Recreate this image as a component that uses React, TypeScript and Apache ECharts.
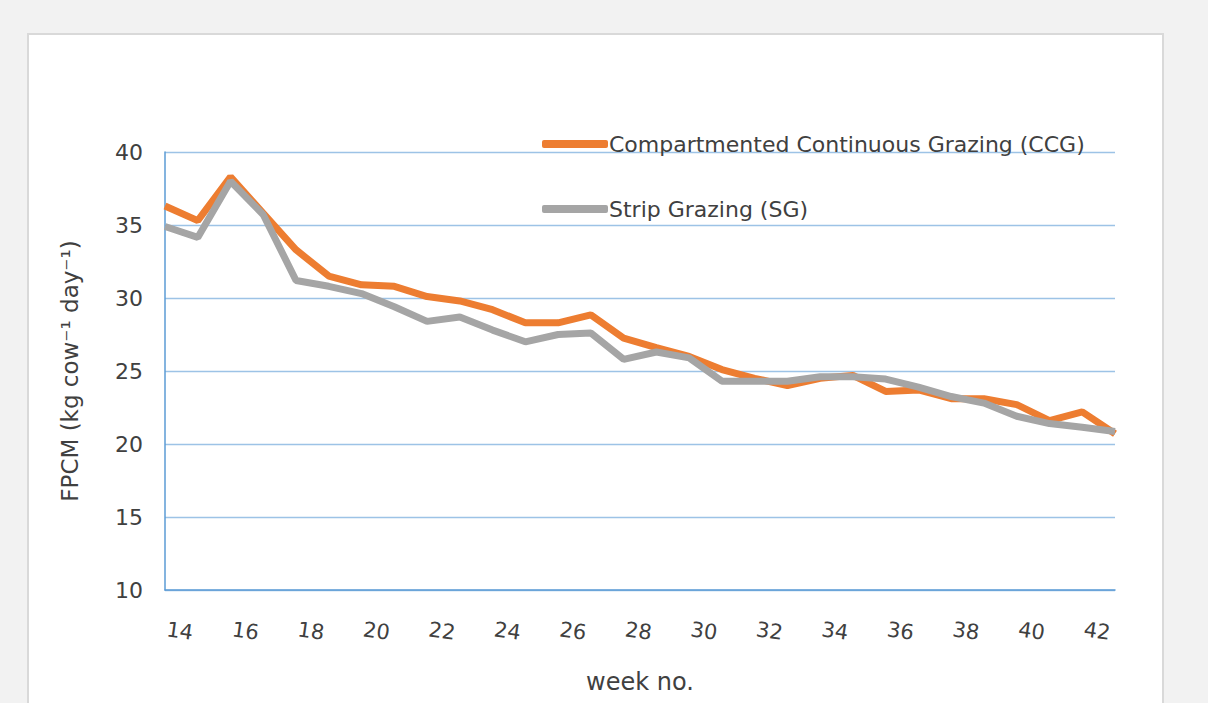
import React, { useEffect, useRef } from "react";
import * as echarts from "echarts";

const weeks = ["14","15","16","17","18","19","20","21","22","23","24","25","26","27","28","29","30","31","32","33","34","35","36","37","38","39","40","41","42","43"];
const ccg = [36.3,35.3,38.3,35.8,33.3,31.5,30.9,30.8,30.1,29.8,29.2,28.3,28.3,28.85,27.25,26.6,26.0,25.1,24.5,24.0,24.5,24.7,23.6,23.7,23.1,23.1,22.7,21.6,22.2,20.7];
const sg = [34.9,34.15,38.0,35.7,31.2,30.8,30.3,29.4,28.4,28.7,27.8,27.0,27.5,27.6,25.8,26.3,25.9,24.3,24.3,24.3,24.6,24.6,24.45,23.9,23.25,22.8,21.9,21.4,21.15,20.85];
const seriesNames = ["Compartmented Continuous Grazing (CCG)", "Strip Grazing (SG)"];
const yMin = 10, yMax = 40, yStep = 5;

export default function App() {
  const ref = useRef<HTMLDivElement>(null);
  useEffect(() => {
    document.body.style.margin = "0";
    const chart = echarts.init(ref.current!, null, { renderer: "svg" });
    const font = "DejaVu Sans";
    chart.setOption({
      animation: false,
      backgroundColor: "#f2f2f2",
      textStyle: { fontFamily: font },
      graphic: [
        {
          type: "rect",
          z: -10,
          shape: { x: 28, y: 34, width: 1135, height: 690 },
          style: { fill: "#ffffff", stroke: "#d9d9d9", lineWidth: 2 },
        },
      ],
      grid: { left: 165, right: 93, top: 152, bottom: 113, containLabel: false },
      legend: {
        orient: "vertical",
        left: 537,
        top: 128,
        itemWidth: 66,
        itemHeight: 8,
        itemGap: 43,
        icon: "roundRect",
        textStyle: { fontFamily: font, fontSize: 22, color: "#404040", padding: [0, 0, 0, -4] },
        data: seriesNames,
      },
      xAxis: {
        type: "category",
        data: weeks,
        boundaryGap: false,
        axisLine: { show: true, lineStyle: { color: "#5b9bd5", width: 1.5 } },
        axisTick: { show: false },
        axisLabel: {
          interval: 1,
          rotate: -8,
          align: "center",
          verticalAlign: "middle",
          margin: 39,
          padding: [0, 0, 0, 30],
          fontSize: 21,
          fontFamily: font,
          color: "#404040",
        },
        name: "week no.",
        nameLocation: "middle",
        nameGap: 80,
        nameTextStyle: { fontSize: 24, color: "#404040", fontFamily: font },
      },
      yAxis: {
        type: "value",
        min: yMin,
        max: yMax,
        interval: yStep,
        axisLine: { show: true, lineStyle: { color: "#5b9bd5", width: 1.5 } },
        axisTick: { show: false },
        splitLine: { lineStyle: { color: "#9dc3e6", width: 1.3 } },
        axisLabel: { fontSize: 22, color: "#404040", margin: 22, fontFamily: font },
        name: "FPCM (kg cow\u207B\u00B9 day\u207B\u00B9)",
        nameLocation: "middle",
        nameGap: 84,
        nameRotate: 90,
        nameTextStyle: { fontSize: 23, color: "#404040", fontFamily: font },
      },
      series: [
        {
          name: seriesNames[0],
          type: "line",
          data: ccg,
          symbol: "none",
          lineStyle: { color: "#ed7d31", width: 7 },
          itemStyle: { color: "#ed7d31" },
          z: 2,
        },
        {
          name: seriesNames[1],
          type: "line",
          data: sg,
          symbol: "none",
          lineStyle: { color: "#a5a5a5", width: 7 },
          itemStyle: { color: "#a5a5a5" },
          z: 3,
        },
      ],
    });
    return () => chart.dispose();
  }, []);
  return <div ref={ref} style={{ width: 1208, height: 703 }} />;
}
